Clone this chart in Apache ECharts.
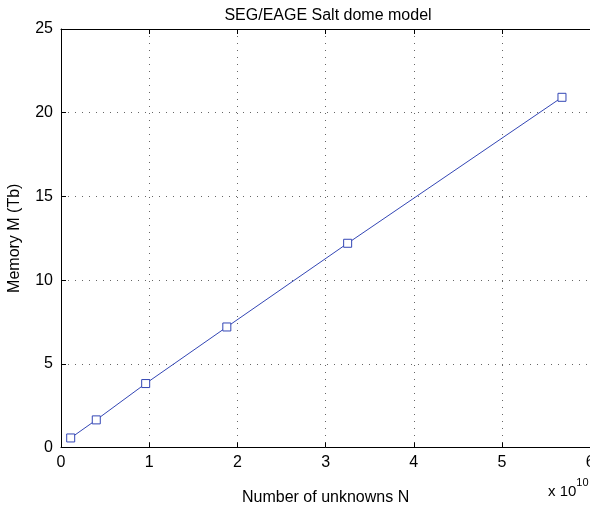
<!DOCTYPE html>
<html><head><meta charset="utf-8">
<script src="https://cdn.jsdelivr.net/npm/echarts@6/dist/echarts.min.js"></script>
<style>html,body{margin:0;padding:0;background:#fff}#c{width:590px;height:508px}</style>
</head><body><div id="c"></div>
<script>
const unknownsN = [0.11, 0.40, 0.96, 1.88, 3.25, 5.68];
const memoryTb = [0.57, 1.65, 3.82, 7.2, 12.2, 20.92];
const xTicks = [0, 1, 2, 3, 4, 5, 6];
const yTicks = [0, 5, 10, 15, 20, 25];
const FONT = 'Liberation Sans, Arial, Helvetica, sans-serif';
const chart = echarts.init(document.getElementById('c'), null, {renderer: 'canvas'});
const gridStyle = {show: true, lineStyle: {color: '#666', width: 1, type: [1, 6]}};
chart.setOption({
  animation: false,
  backgroundColor: '#fff',
  title: {text: 'SEG/EAGE Salt dome model', left: 323, top: 3, textAlign: 'center',
    textStyle: {fontFamily: FONT, fontSize: 16, fontWeight: 'normal', color: '#000'}},
  grid: {left: 61, top: 29, width: 529.2, height: 418.5, containLabel: false, outerBoundsMode: 'none'},
  xAxis: [{
    type: 'value', min: xTicks[0], max: xTicks[xTicks.length - 1], interval: 1,
    name: 'Number of unknowns N', nameLocation: 'middle', nameGap: 42,
    nameTextStyle: {fontFamily: FONT, fontSize: 16, color: '#000'},
    axisLine: {show: true, lineStyle: {color: '#000', width: 1}},
    axisTick: {show: true, inside: true, length: 5, lineStyle: {color: '#000'}},
    axisLabel: {fontFamily: FONT, fontSize: 16, color: '#000', margin: 7},
    splitLine: gridStyle
  }, {
    type: 'value', position: 'top', min: xTicks[0], max: xTicks[xTicks.length - 1], interval: 1,
    axisLine: {show: true, lineStyle: {color: '#000', width: 1}},
    axisTick: {show: true, inside: true, length: 5, lineStyle: {color: '#000'}},
    axisLabel: {show: false}, splitLine: {show: false}
  }],
  yAxis: {
    type: 'value', min: yTicks[0], max: yTicks[yTicks.length - 1], interval: 5,
    name: 'Memory M (Tb)', nameLocation: 'middle', nameGap: 38, nameRotate: 90,
    nameTextStyle: {fontFamily: FONT, fontSize: 16, color: '#000'},
    axisLine: {show: true, lineStyle: {color: '#000', width: 1}},
    axisTick: {show: true, inside: true, length: 5, lineStyle: {color: '#000'}},
    axisLabel: {fontFamily: FONT, fontSize: 16, color: '#000', margin: 8},
    splitLine: gridStyle
  },
  graphic: [{
    type: 'text', left: 548, top: 477,
    style: {text: '{a|x 10}{s|10}', rich: {
      a: {fontFamily: FONT, fontSize: 15, color: '#000', verticalAlign: 'bottom', lineHeight: 22},
      s: {fontFamily: FONT, fontSize: 11, color: '#000', verticalAlign: 'top', lineHeight: 22, padding: [0, 0, 8, 0]}
    }}
  }],
  series: [{
    type: 'line', xAxisIndex: 0,
    data: unknownsN.map((x, i) => [x, memoryTb[i]]),
    symbol: 'rect', symbolSize: 8, showAllSymbol: true,
    lineStyle: {color: '#3346b5', width: 1},
    itemStyle: {color: '#fff', borderColor: '#3346b5', borderWidth: 1},
    emphasis: {disabled: true}
  }]
});
</script></body></html>
